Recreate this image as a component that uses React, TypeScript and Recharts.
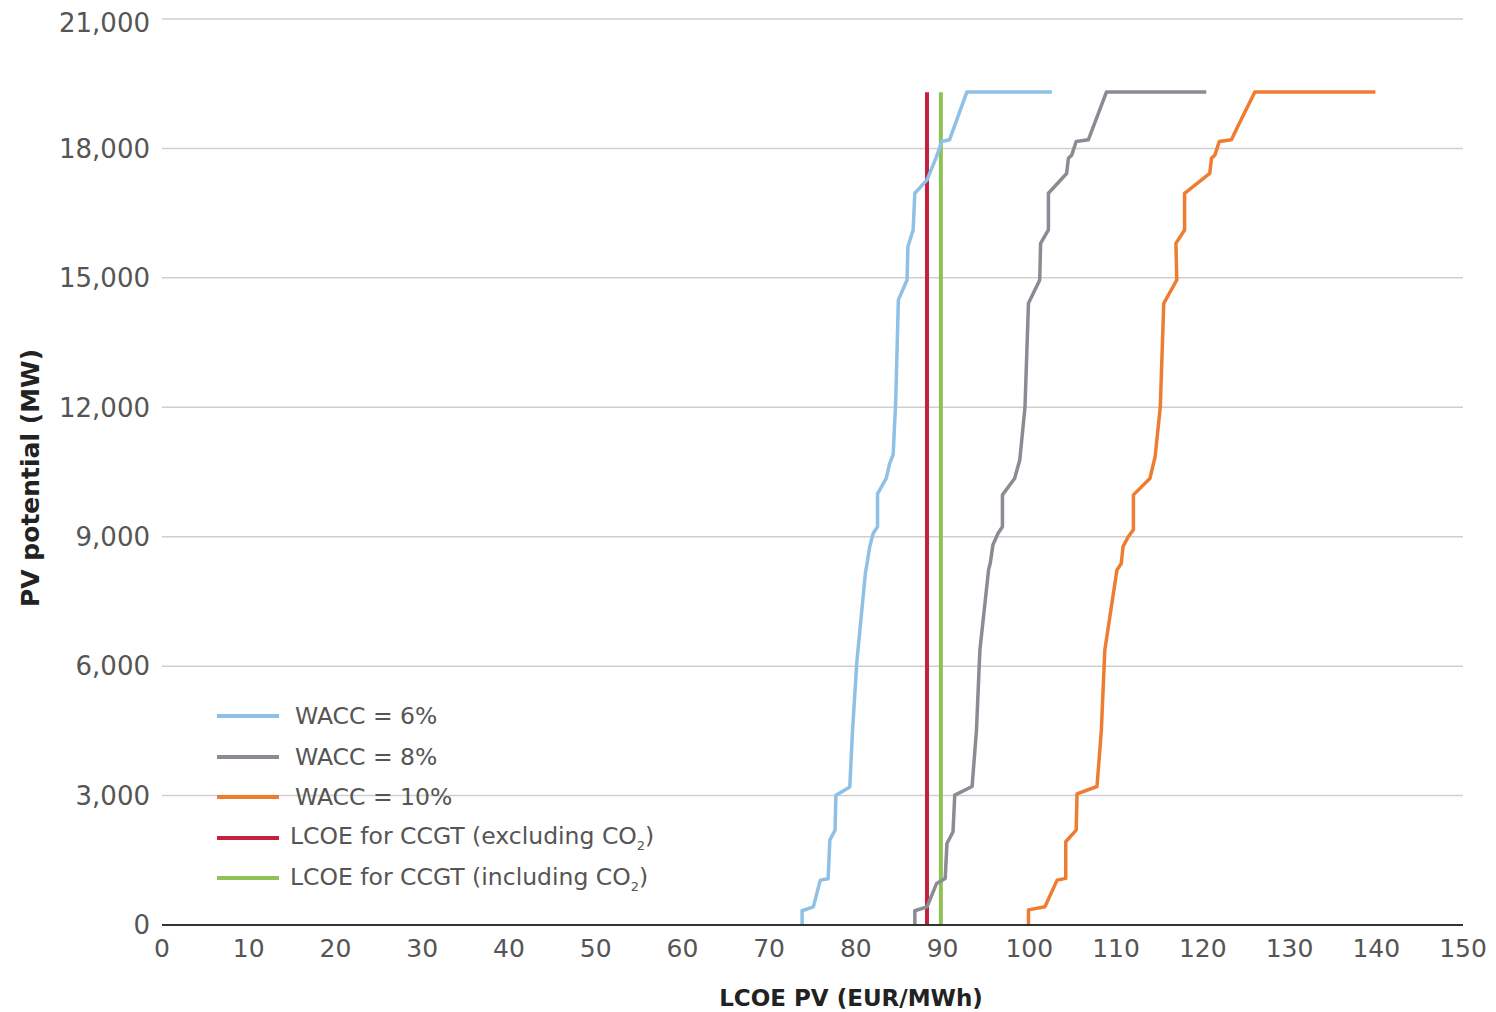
import { LineChart, Line, XAxis, YAxis, CartesianGrid, Legend } from "recharts";

// LCOE (EUR/MWh) vs cumulative PV potential (MW)
const wacc6Lcoe = [73.8, 73.8, 75.1, 75.9, 76.8, 77.0, 77.6, 77.7, 79.3, 79.6, 80.1, 81.1, 81.3, 81.6, 82.0, 82.5, 82.5, 83.5, 83.9, 84.3, 84.6, 84.9, 85.9, 86.0, 86.6, 86.8, 88.2, 89.3, 89.9, 90.8, 92.8, 102.6];
const wacc6Mw = [0, 330, 420, 1040, 1070, 1970, 2200, 3010, 3200, 4450, 6070, 8160, 8390, 8770, 9080, 9230, 10000, 10350, 10700, 10900, 12170, 14490, 14950, 15720, 16110, 16960, 17270, 17810, 18160, 18200, 19310, 19310];

const wacc8Lcoe = [86.8, 86.8, 88.2, 89.3, 90.3, 90.5, 91.2, 91.4, 93.4, 93.9, 94.3, 95.3, 95.5, 95.8, 96.4, 96.9, 96.9, 98.3, 98.9, 99.5, 99.9, 101.2, 101.3, 102.2, 102.2, 104.3, 104.5, 104.9, 105.4, 106.8, 108.9, 120.4];
const wacc8Mw = [0, 330, 420, 960, 1080, 1890, 2160, 3010, 3210, 4500, 6370, 8230, 8390, 8810, 9080, 9230, 9970, 10350, 10780, 12010, 14410, 14950, 15800, 16110, 16960, 17420, 17770, 17850, 18160, 18200, 19310, 19310];

const wacc10Lcoe = [99.9, 99.9, 101.8, 103.2, 104.2, 104.2, 105.4, 105.5, 107.8, 108.3, 108.7, 110.1, 110.6, 110.8, 111.4, 112.0, 112.0, 113.9, 114.5, 115.1, 115.5, 117.0, 116.9, 117.9, 117.9, 120.8, 121.0, 121.4, 121.9, 123.3, 124.1, 126.0, 139.9];
const wacc10Mw = [0, 350, 425, 1040, 1080, 1930, 2200, 3040, 3210, 4500, 6370, 8230, 8380, 8770, 9000, 9160, 9970, 10350, 10850, 12010, 14410, 14950, 15800, 16110, 16960, 17420, 17770, 17850, 18160, 18200, 18540, 19310, 19310];

const ccgtExclCo2 = 88.2;
const ccgtInclCo2 = 89.8;
const ccgtMw = [0, 19300];

const xTicks = [0, 10, 20, 30, 40, 50, 60, 70, 80, 90, 100, 110, 120, 130, 140, 150];
const yTicks = [0, 3000, 6000, 9000, 12000, 15000, 18000, 21000];

const toPoints = (lcoe: number[], mw: number[]) =>
  lcoe.map((x, i) => ({ x, y: mw[i] }));

const series = [
  { key: "w6", name: "WACC = 6%", color: "#8fc1e6", data: toPoints(wacc6Lcoe, wacc6Mw) },
  { key: "w8", name: "WACC = 8%", color: "#8b8b93", data: toPoints(wacc8Lcoe, wacc8Mw) },
  { key: "w10", name: "WACC = 10%", color: "#ee7d31", data: toPoints(wacc10Lcoe, wacc10Mw) },
];

const refLines = [
  { key: "excl", name: "LCOE for CCGT (excluding CO", color: "#c4213f", data: ccgtMw.map((y) => ({ x: ccgtExclCo2, y })) },
  { key: "incl", name: "LCOE for CCGT (including CO", color: "#8fc155", data: ccgtMw.map((y) => ({ x: ccgtInclCo2, y })) },
];

const FONT = "'DejaVu Sans', sans-serif";

function LegendBox() {
  const rows = [
    ...series.map((s) => ({ name: s.name, color: s.color, co2: false })),
    ...refLines.map((r) => ({ name: r.name, color: r.color, co2: true })),
  ];
  return (
    <div style={{ fontFamily: FONT, fontSize: 23.5, color: "#555" }}>
      {rows.map((r) => (
        <div key={r.name} style={{ display: "flex", alignItems: "center", height: 40.5 }}>
          <span style={{ display: "inline-block", width: 62, height: 4, background: r.color, marginRight: r.co2 ? 11 : 16 }} />
          <span>
            {r.name}
            {r.co2 && (
              <>
                <sub style={{ fontSize: 13 }}>2</sub>)
              </>
            )}
          </span>
        </div>
      ))}
    </div>
  );
}

export default function App() {
  return (
    <div style={{ position: "relative", width: 1480, height: 1004 }}>
      <LineChart
        width={1480}
        height={1004}
        margin={{ top: 11, right: 25, bottom: 57, left: 0 }}
      >
        <CartesianGrid horizontal vertical={false} stroke="#cfcfcf" strokeWidth={1.5} />
        <XAxis
          type="number"
          dataKey="x"
          domain={[0, 150]}
          ticks={xTicks}
          allowDataOverflow
          height={30}
          tickSize={0}
          tickMargin={14}
          axisLine={{ stroke: "#333", strokeWidth: 2 }}
          tick={{ fontFamily: FONT, fontSize: 25, fill: "#555" }}
        />
        <YAxis
          type="number"
          dataKey="y"
          domain={[0, 21000]}
          ticks={yTicks}
          width={154}
          tickSize={0}
          tickMargin={12}
          axisLine={false}
          tickFormatter={(v: number) => v.toLocaleString("en-US")}
          tick={{ fontFamily: FONT, fontSize: 26, fill: "#555" }}
        />
        <Legend
          layout="vertical"
          align="center"
          verticalAlign="middle"
          content={() => <LegendBox />}
          wrapperStyle={{ position: "absolute", left: 209, top: 688, width: 520 }}
        />
        {refLines.map((r) => (
          <Line
            key={r.key}
            data={r.data}
            dataKey="y"
            stroke={r.color}
            strokeWidth={4}
            dot={false}
            isAnimationActive={false}
          />
        ))}
        {series.map((s) => (
          <Line
            key={s.key}
            data={s.data}
            dataKey="y"
            stroke={s.color}
            strokeWidth={3.5}
            strokeLinejoin="round"
            dot={false}
            isAnimationActive={false}
          />
        ))}
      </LineChart>
      <div
        style={{
          position: "absolute",
          left: 22,
          top: 470,
          transform: "translate(-50%, -50%) rotate(-90deg)",
          fontFamily: FONT,
          fontWeight: "bold",
          fontSize: 25,
          color: "#222",
          whiteSpace: "nowrap",
        }}
      >
        PV potential (MW)
      </div>
      <div
        style={{
          position: "absolute",
          left: 843,
          top: 990,
          transform: "translate(-50%, -50%)",
          fontFamily: FONT,
          fontWeight: "bold",
          fontSize: 23,
          color: "#222",
          whiteSpace: "nowrap",
        }}
      >
        LCOE PV (EUR/MWh)
      </div>
    </div>
  );
}
